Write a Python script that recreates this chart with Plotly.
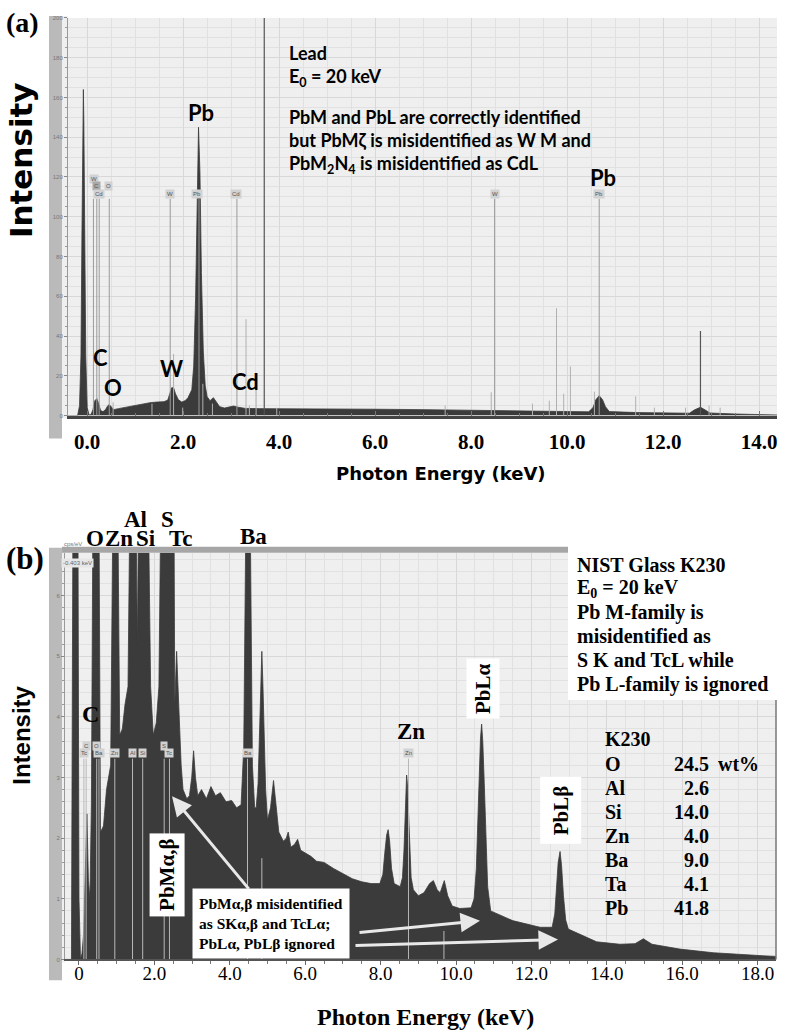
import plotly.graph_objects as go

W, H = 786, 1035
def px(x): return x / W
def py(y): return 1 - y / H

# ---------------- Panel (a): Lead, E0 = 20 keV ----------------
a_energy = [-0.40, -0.20, -0.16, -0.13, -0.11, -0.09, -0.08, -0.07, -0.05, -0.03,
            0.00, 0.04, 0.08, 0.12, 0.16, 0.20, 0.24, 0.28, 0.33, 0.38,
            0.43, 0.46, 0.50, 0.55, 0.65, 0.80, 0.96, 1.10, 1.31, 1.45,
            1.60, 1.68, 1.72, 1.76, 1.80, 1.84, 1.90, 1.97, 2.04, 2.10,
            2.18, 2.22, 2.26, 2.29, 2.32, 2.35, 2.38, 2.42, 2.46, 2.50,
            2.56, 2.63, 2.69, 2.76, 2.86, 2.96, 3.05, 3.15, 3.30, 3.60,
            4.00, 5.00, 6.00, 7.00, 8.00, 9.00, 10.00, 10.45, 10.54, 10.60,
            10.67, 10.74, 10.80, 10.88, 11.50, 12.00, 12.55, 12.65, 12.78, 12.88,
            12.98, 13.50, 14.00, 14.375]
a_counts = [0, 0, 5, 30, 90, 150, 164, 148, 90, 30,
            4, 0.3, 0.5, 3, 7.5, 8.5, 6, 2.5, 2, 3,
            5, 5.5, 4.5, 3, 3.5, 4.2, 5, 5.6, 6.5, 6.8,
            7, 7.8, 11, 14, 14, 11, 8, 6.8, 7.5, 9,
            13, 25, 60, 110, 145, 122, 72, 32, 15, 9.5,
            7.5, 9, 7, 4.5, 3.8, 4.2, 4.8, 4.2, 3.6, 3.5,
            3.5, 3.3, 3.2, 3.0, 2.6, 2.2, 1.8, 1.9, 4, 8,
            10, 8, 4.5, 2, 1.5, 1.2, 1.2, 2.8, 4.2, 2.8,
            1.3, 0.8, 0.4, 0.3]

# identified-element marker lines (a)
a_id_energy = [0.13, 0.20, 0.25, 0.46, 1.73, 2.33, 3.12, 8.49, 10.67]
a_id_top = [109, 109, 109, 109, 109, 109, 109, 109, 109]
a_box_text = ["W", "C", "O", "Cd", "W", "Pb", "Cd", "W", "Pb"]
a_box_energy = [0.15, 0.20, 0.45, 0.25, 1.73, 2.28, 3.10, 8.49, 10.67]
a_box_level = [119, 115.5, 115.5, 111.5, 111.5, 111.5, 111.5, 111.5, 111.5]
# short auxiliary lines (a)
a_minor_energy = [0.54, 1.35, 1.80, 1.99, 2.41, 2.61, 3.31, 3.38, 3.52, 3.95,
                  7.46, 8.42, 9.28, 9.63, 9.78, 9.93, 10.07, 10.57, 11.43, 11.82,
                  12.47, 12.96, 13.19]
a_minor_top = [6.7, 6, 31, 4, 16, 6, 48.5, 5, 13.5, 4,
               5, 11.7, 6, 7.5, 54, 11, 24.7, 12, 9.7, 4,
               4, 5, 4]
a_dark_energy = [12.78, 3.69]
a_dark_top = [42.5, 200]

a_tick_vals = [0, 2, 4, 6, 8, 10, 12, 14]
a_tick_text = ["0.0", "2.0", "4.0", "6.0", "8.0", "10.0", "12.0", "14.0"]

# ---------------- Panel (b): NIST Glass K230 ----------------
b_energy = [-0.37, -0.20, -0.16, -0.03, 0.00, 0.04, 0.08, 0.12, 0.17, 0.21,
            0.25, 0.29, 0.33, 0.37, 0.53, 0.57, 0.65, 0.73, 0.84, 0.90,
            1.03, 1.08, 1.15, 1.22, 1.30, 1.35, 1.51, 1.55, 1.58, 1.84,
            1.90, 1.97, 2.05, 2.12, 2.17, 2.52, 2.54, 2.57, 2.59, 2.62,
            2.66, 2.71, 2.76, 2.86, 2.93, 2.99, 3.04, 3.09, 3.15, 3.25,
            3.38, 3.50, 3.62, 3.75, 3.90, 4.05, 4.18, 4.30, 4.37, 4.43,
            4.54, 4.60, 4.66, 4.70, 4.75, 4.79, 4.82, 4.85, 4.88, 4.91,
            4.95, 5.00, 5.08, 5.16, 5.22, 5.30, 5.42, 5.50, 5.55, 5.62,
            5.72, 5.80, 5.88, 6.00, 6.15, 6.30, 6.50, 6.75, 7.00, 7.25,
            7.50, 7.75, 7.98, 8.06, 8.11, 8.16, 8.20, 8.24, 8.29, 8.36,
            8.52, 8.58, 8.62, 8.65, 8.67, 8.69, 8.71, 8.74, 8.77, 8.81,
            8.87, 9.00, 9.15, 9.30, 9.40, 9.50, 9.58, 9.69, 9.78, 9.90,
            10.10, 10.40, 10.48, 10.54, 10.58, 10.62, 10.65, 10.68, 10.71, 10.75,
            10.79, 10.84, 10.92, 11.50, 12.23, 12.55, 12.62, 12.67, 12.71, 12.76,
            12.80, 12.85, 12.91, 12.98, 13.73, 14.35, 14.75, 14.97, 15.20, 15.94,
            16.83, 18.15, 18.49]
b_counts = [0, 0, 7.5, 7.5, 1.0, 0, 0.1, 0.4, 1.5, 2.4,
            1.3, 1.0, 2.6, 7.5, 7.5, 2.1, 2.2, 2.8, 3.2, 7.5,
            7.5, 3.7, 3.8, 4.2, 4.5, 7.5, 7.5, 5.2, 7.5, 7.5,
            4.5, 3.7, 3.9, 4.5, 7.5, 7.5, 4.2, 4.7, 5.08, 4.6,
            3.9, 3.2, 2.8, 2.65, 2.7, 3.0, 3.44, 3.0, 2.7, 2.8,
            2.65, 2.85, 2.7, 2.75, 2.6, 2.62, 2.5, 2.55, 3.5, 7.5,
            7.5, 3.2, 2.5, 2.5, 2.9, 3.7, 4.5, 5.08, 4.5, 3.6,
            2.8, 2.3, 2.5, 2.95, 2.6, 2.1, 1.95, 2.0, 2.1, 1.85,
            1.9, 1.98, 1.8, 1.75, 1.7, 1.62, 1.6, 1.5, 1.42, 1.33,
            1.28, 1.25, 1.25, 1.4, 1.75, 2.05, 2.14, 1.95, 1.5, 1.25,
            1.2, 1.35, 1.8, 2.4, 2.85, 3.04, 2.9, 2.4, 1.8, 1.35,
            1.15, 1.05, 1.1, 1.25, 1.3, 1.15, 1.1, 1.3, 1.05, 0.88,
            0.84, 0.85, 1.0, 1.5, 2.3, 3.1, 3.65, 3.88, 3.6, 2.9,
            2.0, 1.2, 0.8, 0.64, 0.53, 0.53, 0.75, 1.2, 1.6, 1.78,
            1.55, 1.05, 0.65, 0.5, 0.29, 0.25, 0.26, 0.34, 0.25, 0.17,
            0.11, 0.06, 0.05]

b_id_energy = [0.13, 0.19, 0.47, 0.53, 0.95, 1.42, 1.69, 2.26, 2.40, 4.47, 8.74]
b_id_top = [3.31] * 11
b_box_text = ["Tc", "C", "O", "Ba", "Zn", "Al", "Si", "S", "Tc", "Ba", "Zn"]
b_box_energy = [0.13, 0.19, 0.47, 0.53, 0.95, 1.42, 1.69, 2.26, 2.40, 4.47, 8.74]
b_box_level = [3.41, 3.52, 3.52, 3.41, 3.41, 3.41, 3.41, 3.52, 3.41, 3.41, 3.41]
b_minor_energy = [4.85, 9.68]
b_minor_top = [1.67, 0.47]

b_tick_vals = [0, 2, 4, 6, 8, 10, 12, 14, 16, 18]
b_tick_text = ["0", "2.0", "4.0", "6.0", "8.0", "10.0", "12.0", "14.0", "16.0", "18.0"]

k230_elements = ["O", "Al", "Si", "Zn", "Ba", "Ta", "Pb"]
k230_wt = ["24.5", "2.6", "14.0", "4.0", "9.0", "4.1", "41.8"]

SPEC = '#3b3b3b'


def segs(xs, tops):
    X, Y = [], []
    for e, t in zip(xs, tops):
        X += [e, e, None]
        Y += [0, t, None]
    return X, Y


fig = go.Figure()
# panel a
fig.add_trace(go.Scatter(x=a_energy, y=a_counts, mode='lines', fill='tozeroy',
                         line=dict(color=SPEC, width=0.8), fillcolor=SPEC,
                         xaxis='x', yaxis='y', hoverinfo='skip', showlegend=False))
X, Y = segs(a_id_energy, a_id_top)
fig.add_trace(go.Scatter(x=X, y=Y, mode='lines', line=dict(color='#9a9a9a', width=1),
                         xaxis='x', yaxis='y', hoverinfo='skip', showlegend=False))
X, Y = segs(a_minor_energy, a_minor_top)
fig.add_trace(go.Scatter(x=X, y=Y, mode='lines', line=dict(color='#b0b0b0', width=1),
                         xaxis='x', yaxis='y', hoverinfo='skip', showlegend=False))
X, Y = segs(a_dark_energy, a_dark_top)
fig.add_trace(go.Scatter(x=X, y=Y, mode='lines', line=dict(color='#555555', width=1.2),
                         xaxis='x', yaxis='y', hoverinfo='skip', showlegend=False))
# panel b
fig.add_trace(go.Scatter(x=b_energy, y=b_counts, mode='lines', fill='tozeroy',
                         line=dict(color=SPEC, width=0.8), fillcolor=SPEC,
                         xaxis='x2', yaxis='y2', hoverinfo='skip', showlegend=False))
X, Y = segs(b_id_energy, b_id_top)
fig.add_trace(go.Scatter(x=X, y=Y, mode='lines', line=dict(color='#b8b8b8', width=1),
                         xaxis='x2', yaxis='y2', hoverinfo='skip', showlegend=False))
X, Y = segs(b_minor_energy, b_minor_top)
fig.add_trace(go.Scatter(x=X, y=Y, mode='lines', line=dict(color='#b8b8b8', width=1),
                         xaxis='x2', yaxis='y2', hoverinfo='skip', showlegend=False))

GRID = '#d8d8d8'
MINOR = '#e1e1e1'
fig.update_layout(
    width=W, height=H, margin=dict(l=0, r=0, t=0, b=0),
    paper_bgcolor='white', plot_bgcolor='#efefef', showlegend=False,
    xaxis=dict(domain=[px(68), px(777)], range=[-0.40, 14.375], anchor='y',
               tickmode='array', tickvals=a_tick_vals, ticktext=a_tick_text,
               tickfont=dict(family='Liberation Serif', size=21, color='black', weight='bold'),
               ticks='inside', ticklen=5, tickcolor='#777', ticklabelstandoff=5,
               showline=True, linecolor='#444444', linewidth=3,
               showgrid=True, gridcolor=GRID, zeroline=False,
               minor=dict(dtick=0.5, tick0=0, showgrid=True, gridcolor=MINOR,
                          ticks='inside', ticklen=3, tickcolor='#777')),
    yaxis=dict(domain=[py(415), py(15)], range=[0, 200], anchor='x',
               dtick=20, tickfont=dict(family='Liberation Sans', size=6, color='#777'),
               ticks='outside', ticklen=3, tickcolor='#888',
               showline=True, linecolor='#999', linewidth=1,
               showgrid=True, gridcolor=GRID, zeroline=False,
               minor=dict(dtick=5, showgrid=True, gridcolor=MINOR,
                          ticks='outside', ticklen=2, tickcolor='#999')),
    xaxis2=dict(domain=[px(65), px(776)], range=[-0.371, 18.488], anchor='y2',
                tickmode='array', tickvals=b_tick_vals, ticktext=b_tick_text,
                tickfont=dict(family='Liberation Serif', size=19, color='black'),
                ticks='outside', ticklen=4, tickcolor='#666', ticklabelstandoff=-8,
                showline=True, linecolor='#555', linewidth=1.5,
                showgrid=True, gridcolor=GRID, zeroline=False,
                minor=dict(dtick=0.5, tick0=0, showgrid=True, gridcolor=MINOR,
                           ticks='outside', ticklen=3, tickcolor='#777')),
    yaxis2=dict(domain=[py(962), py(553)], range=[0, 6.705], anchor='x2',
                dtick=1, tickfont=dict(family='Liberation Sans', size=6, color='#777'),
                ticks='outside', ticklen=3, tickcolor='#888',
                showline=True, linecolor='#999', linewidth=1,
                showgrid=True, gridcolor=GRID, zeroline=False,
                minor=dict(dtick=0.2, showgrid=True, gridcolor=MINOR,
                           ticks='outside', ticklen=2, tickcolor='#999')),
)

shapes = [
    # panel a frame bars
    dict(type='rect', xref='paper', yref='paper', x0=px(49), x1=px(62), y0=py(438), y1=py(13),
         fillcolor='#bababa', line=dict(width=0), layer='below'),
    dict(type='rect', xref='paper', yref='paper', x0=px(62), x1=px(68), y0=py(418), y1=py(13),
         fillcolor='#efefef', line=dict(width=0), layer='below'),
    # panel b frame bars
    dict(type='rect', xref='paper', yref='paper', x0=px(49), x1=px(62), y0=py(983), y1=py(548),
         fillcolor='#bababa', line=dict(width=0), layer='below'),
    dict(type='rect', xref='paper', yref='paper', x0=px(62), x1=px(65), y0=py(965), y1=py(548),
         fillcolor='#efefef', line=dict(width=0), layer='below'),
    dict(type='rect', xref='paper', yref='paper', x0=px(62), x1=px(568), y0=py(553), y1=py(547),
         fillcolor='#a6a6a6', line=dict(width=0), layer='above'),
    # NIST text box and right border
    dict(type='rect', xref='paper', yref='paper', x0=px(568), x1=px(778), y0=py(701), y1=py(546),
         fillcolor='white', line=dict(width=0), layer='above'),
    dict(type='line', xref='paper', yref='paper', x0=px(776), x1=px(776), y0=py(962), y1=py(701),
         line=dict(color='#777', width=1.5), layer='above'),
]
fig.update_layout(shapes=shapes)

ann = []


def txt(x, y, s, size, family, bold=True, color='black', xanchor='center', angle=0,
        bg=None, pad=1, yanchor='middle'):
    d = dict(xref='paper', yref='paper', x=px(x), y=py(y), text=s, showarrow=False,
             xanchor=xanchor, yanchor=yanchor, textangle=angle,
             font=dict(family=family, size=size, color=color,
                       weight='bold' if bold else 'normal'))
    if bg:
        d['bgcolor'] = bg
        d['borderpad'] = pad
    ann.append(d)


SANS = 'Lato'
SERIF = 'Liberation Serif'

# ---- panel a texts ----
txt(22, 20, "(a)", 28, SERIF)
txt(21, 158, "Intensity", 31, 'DejaVu Sans', angle=-90)
txt(287, 50, "Lead", 18, SANS, xanchor='left')
txt(287, 75, "E<sub>0</sub> = 20 keV", 18, SANS, xanchor='left')
txt(287, 115, "PbM and PbL are correctly identified", 18, SANS, xanchor='left')
txt(287, 138, "but PbMζ is misidentified as W M and", 18, SANS, xanchor='left')
txt(287, 162, "PbM<sub>2</sub>N<sub>4</sub> is misidentified as CdL", 18, SANS, xanchor='left')
txt(201, 110, "Pb", 22, SANS)
txt(603, 176, "Pb", 22, SANS)
txt(100, 357, "C", 22, SANS)
txt(113, 387, "O", 22, SANS)
txt(171, 368, "W", 22, SANS)
txt(245, 381, "Cd", 22, SANS)
txt(441, 473, "Photon Energy (keV)", 18, 'DejaVu Sans')

for t, e, lv in zip(a_box_text, a_box_energy, a_box_level):
    ann.append(dict(xref='x', yref='y', x=e, y=lv, text=t, showarrow=False,
                    font=dict(family='Liberation Sans', size=6, color='#555'),
                    bgcolor='#a9a9a9' if t == 'C' else '#d2d2d2', borderpad=1))

for t, e, lv in zip(b_box_text, b_box_energy, b_box_level):
    ann.append(dict(xref='x2', yref='y2', x=e, y=lv, text=t, showarrow=False,
                    font=dict(family='Liberation Sans', size=6, color='#555'),
                    bgcolor='#d2d2d2', borderpad=1))

# ---- panel b texts ----
txt(25, 559, "(b)", 31, SERIF)
txt(22, 737, "Intensity", 24, 'Liberation Sans', angle=-90)
txt(135, 520, "Al", 23, SERIF)
txt(167, 520, "S", 23, SERIF)
txt(95, 539, "O", 23, SERIF)
txt(119, 539, "Zn", 23, SERIF)
txt(146, 539, "Si", 23, SERIF)
txt(180, 539, "Tc", 23, SERIF)
txt(253, 537, "Ba", 23, SERIF)
txt(90, 715, "C", 24, SERIF)
txt(411, 733, "Zn", 23, SERIF)

nist_lines = ["NIST Glass K230", "E<sub>0</sub> = 20 keV", "Pb M-family is",
              "misidentified as", "S K and TcL while", "Pb L-family is ignored"]
for i, s in enumerate(nist_lines):
    txt(575, 565 + 24 * i, s, 20, SERIF, xanchor='left')

txt(603, 740, "K230", 20, SERIF, xanchor='left')
for i, (el, v) in enumerate(zip(k230_elements, k230_wt)):
    yy = 765 + 24.2 * i
    txt(603, yy, el, 20, SERIF, xanchor='left')
    txt(711, yy, v, 20, SERIF, xanchor='right')
txt(716, 765, "wt%", 20, SERIF, xanchor='left')

txt(483, 690, "PbLα", 21, SERIF, angle=-90, bg='white', pad=4)
txt(561, 812, "PbLβ", 21, SERIF, angle=-90, bg='white', pad=8)
txt(167, 877, "PbMα,β", 21, SERIF, angle=-90, bg='white', pad=5)

ann.append(dict(xref='paper', yref='paper', x=px(271), y=py(926),
                text="PbMα,β misidentified<br>as SKα,β and TcLα;<br>PbLα, PbLβ ignored",
                showarrow=False, align='left', xanchor='center', yanchor='middle',
                bgcolor='white', borderpad=6,
                font=dict(family=SERIF, size=15.5, color='black', weight='bold')))

# arrows (head position, tail position in px)
arrows = [((172, 798), (250, 892)), ((480, 923), (358, 935)), ((558, 942), (354, 948))]
for (hx, hy), (tx, ty) in arrows:
    ann.append(dict(xref='paper', yref='paper', x=px(hx), y=py(hy), text='',
                    showarrow=True, ax=tx - hx, ay=ty - hy, arrowhead=2, arrowsize=1.3,
                    arrowwidth=3, arrowcolor='#e8e8e8', standoff=0, startstandoff=0))

txt(425, 1020, "Photon Energy (keV)", 24, SERIF)

# tiny software labels
txt(73, 544, "cps/eV", 6, 'Liberation Sans', bold=False, color='#777')
txt(77, 563, "-0.403 keV", 6, 'Liberation Sans', bold=False, color='#666', bg='#e6e6e6')

fig.update_layout(annotations=ann)
fig.write_html("out.html", config={'displayModeBar': False},
               post_script="document.body.style.margin='0';document.body.style.overflow='hidden';")
